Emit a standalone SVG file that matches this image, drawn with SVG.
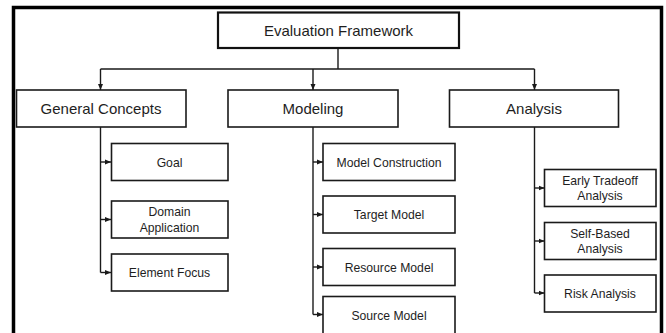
<svg xmlns="http://www.w3.org/2000/svg" width="666" height="333" viewBox="0 0 666 333">
<defs>
<marker id="ah" markerWidth="6" markerHeight="6" refX="6" refY="3" orient="auto" markerUnits="userSpaceOnUse">
<path d="M0,0.5 L6,3 L0,5.5 Z" fill="#1a1a1a"/>
</marker>
<style>
.box{fill:#fff;stroke:#1a1a1a;stroke-width:1.6}
.root{fill:#fff;stroke:#111;stroke-width:2.2}
.t1{font-family:"Liberation Sans",Arial,sans-serif;font-size:15px;fill:#1e1e1e;text-anchor:middle}
.t2{font-family:"Liberation Sans",Arial,sans-serif;font-size:12.2px;fill:#1e1e1e;text-anchor:middle}
.c{fill:none;stroke:#1a1a1a;stroke-width:1.4}
.ca{fill:none;stroke:#1a1a1a;stroke-width:1.4;marker-end:url(#ah)}
</style>
</defs>
<rect x="0" y="0" width="666" height="333" fill="#fff"/>
<path d="M13.5,340 V7.5 H661.5 V340" fill="none" stroke="#000" stroke-width="3.5"/>
<g id="connectors">
<path class="c" d="M338,48 V69 M100.5,69 H534.5"/>
<path class="ca" d="M100.5,69 V90"/>
<path class="ca" d="M313,69 V90"/>
<path class="ca" d="M534.5,69 V90"/>
<path class="c" d="M100.5,127 V272.5"/>
<path class="ca" d="M100.5,162 H111"/>
<path class="ca" d="M100.5,219.5 H111"/>
<path class="ca" d="M100.5,272.5 H111"/>
<path class="c" d="M313,127 V314.5"/>
<path class="ca" d="M313,162 H323"/>
<path class="ca" d="M313,214.5 H323"/>
<path class="ca" d="M313,267 H323"/>
<path class="ca" d="M313,314.5 H323"/>
<path class="c" d="M534.5,127 V293"/>
<path class="ca" d="M534.5,188 H544.5"/>
<path class="ca" d="M534.5,241 H544.5"/>
<path class="ca" d="M534.5,293 H544.5"/>
</g>
<g id="evaluation-framework"><rect class="root" x="218" y="12.5" width="241" height="35.5"/><text class="t1" x="338.5" y="35.5">Evaluation Framework</text></g>
<g id="general-concepts"><rect class="box" x="16.5" y="90" width="169.5" height="37"/><text class="t1" x="101" y="113.5">General Concepts</text></g>
<g id="modeling"><rect class="box" x="228" y="90" width="170" height="37"/><text class="t1" x="313" y="113.5">Modeling</text></g>
<g id="analysis"><rect class="box" x="449.5" y="90" width="169" height="37"/><text class="t1" x="534" y="113.5">Analysis</text></g>
<g id="goal"><rect class="box" x="111.5" y="143.5" width="116.5" height="37"/><text class="t2" x="169.5" y="166.5">Goal</text></g>
<g id="domain-application"><rect class="box" x="111.5" y="201" width="116.5" height="37"/><text class="t2" x="169.5" y="216">Domain</text><text class="t2" x="169.5" y="231.5">Application</text></g>
<g id="element-focus"><rect class="box" x="111.5" y="254" width="116.5" height="37"/><text class="t2" x="169.5" y="277">Element Focus</text></g>
<g id="model-construction"><rect class="box" x="323" y="143.5" width="132" height="37"/><text class="t2" x="389" y="166.5">Model Construction</text></g>
<g id="target-model"><rect class="box" x="323" y="196" width="132" height="37"/><text class="t2" x="389" y="219">Target Model</text></g>
<g id="resource-model"><rect class="box" x="323" y="248.5" width="132" height="37"/><text class="t2" x="389" y="271.5">Resource Model</text></g>
<g id="source-model"><rect class="box" x="323" y="296.5" width="132" height="38"/><text class="t2" x="389" y="319.5">Source Model</text></g>
<g id="early-tradeoff-analysis"><rect class="box" x="544.5" y="169.5" width="111.5" height="37"/><text class="t2" x="600" y="184.5">Early Tradeoff</text><text class="t2" x="600" y="200">Analysis</text></g>
<g id="self-based-analysis"><rect class="box" x="544.5" y="222.5" width="111.5" height="37"/><text class="t2" x="600" y="237.5">Self-Based</text><text class="t2" x="600" y="253">Analysis</text></g>
<g id="risk-analysis"><rect class="box" x="544.5" y="275" width="111.5" height="37"/><text class="t2" x="600" y="298">Risk Analysis</text></g>
</svg>
